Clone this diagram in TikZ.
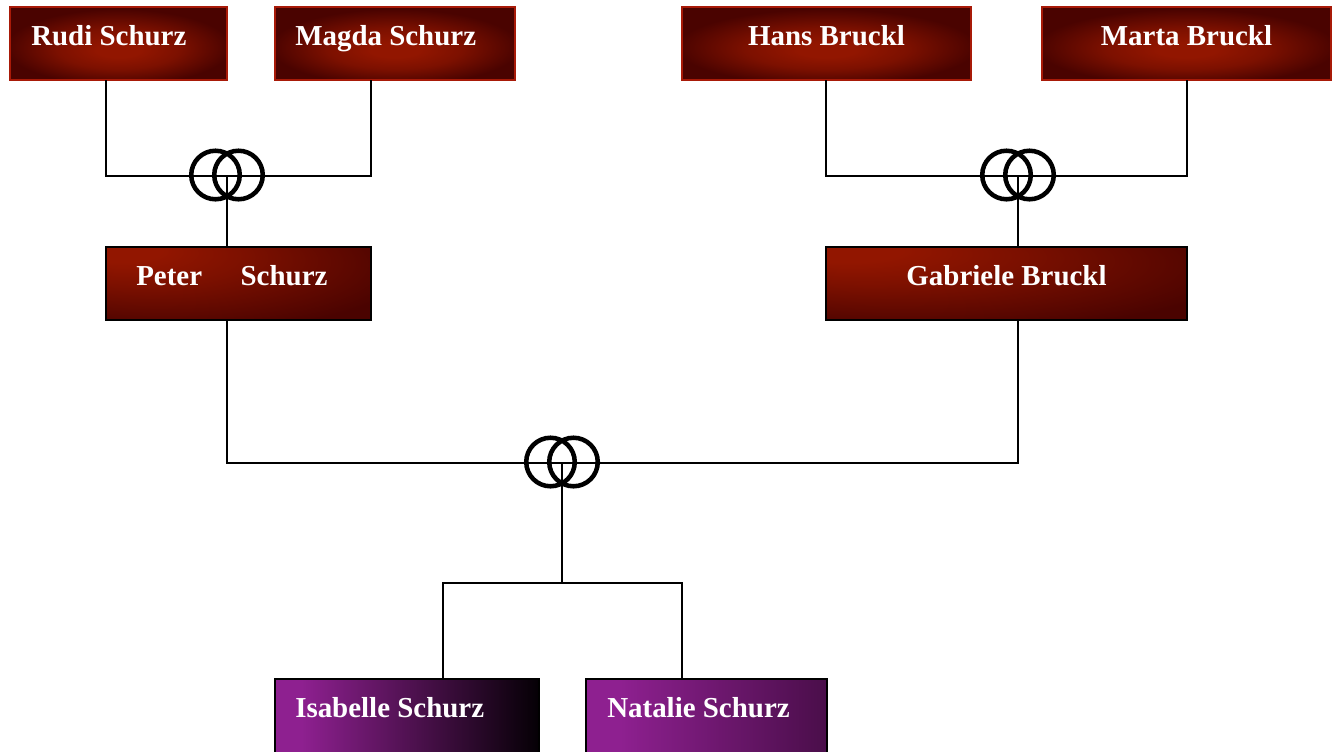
\documentclass[tikz,border=0pt]{standalone}
\usepackage{fontspec}
\setmainfont{Liberation Serif}
\usetikzlibrary{calc}
\definecolor{rbright}{HTML}{921600}
\definecolor{rdark}{HTML}{4A0300}
\colorlet{rmid}{rbright!70!rdark}
\colorlet{rmid2}{rbright!35!rdark}
\definecolor{redborder}{HTML}{A81A08}
\definecolor{pur}{HTML}{8E2090}
\definecolor{purdark}{HTML}{4A0E4A}
\definecolor{nearblack}{HTML}{050005}
\pgfdeclareradialshading{topred}{\pgfpoint{0bp}{-5bp}}{color(0bp)=(rbright); color(5bp)=(rbright); color(14bp)=(rmid); color(26bp)=(rdark); color(50bp)=(rdark)}
\pgfdeclareradialshading{midred}{\pgfpoint{-25bp}{25bp}}{color(0bp)=(rbright); color(8bp)=(rbright); color(20bp)=(rmid); color(32bp)=(rmid2); color(44bp)=(rdark); color(80bp)=(rdark)}
\pgfdeclarehorizontalshading{isafill}{100bp}{color(0bp)=(pur); color(30bp)=(pur); color(75bp)=(nearblack); color(100bp)=(nearblack)}
\pgfdeclarehorizontalshading{natfill}{100bp}{color(0bp)=(pur); color(32bp)=(pur); color(75bp)=(purdark); color(100bp)=(purdark)}
\begin{document}
\begin{tikzpicture}[x=0.75pt,y=-0.75pt,
  box/.style n args={2}{minimum width=#1*0.75pt, minimum height=#2*0.75pt, inner sep=0pt, outer sep=0pt},
  parentbox/.style={shading=topred, draw=redborder, line width=1.1pt},
  midbox/.style={shading=midred, draw=black, line width=1.5pt},
  isabox/.style={shading=isafill, draw=black, line width=1.5pt},
  natbox/.style={shading=natfill, draw=black, line width=1.5pt},
  nm/.style={text=white, inner sep=0pt, font=\fontsize{21.7}{26}\selectfont\bfseries},
  link/.style={draw=black, line width=1.4pt},
  ringc/.style={draw=black, line width=3.4pt}]
\useasboundingbox (0,0) rectangle (1338,751);
\clip (0,0) rectangle (1338,751);
\fill[white] (0,0) rectangle (1338,751);

% connector points
\coordinate (r1) at (227,176);
\coordinate (r2) at (1018,176);
\coordinate (r3) at (562,463);
\coordinate (kids) at (562,583);
\coordinate (ka) at (443,583);
\coordinate (kb) at (682,583);

% boxes
\node[parentbox, box={217}{73}] (rudi) at (118.5,43.5) {};
\node[parentbox, box={240}{73}] (magda) at (395,43.5) {};
\node[parentbox, box={289}{73}] (hans) at (826.5,43.5) {};
\node[parentbox, box={289}{73}] (marta) at (1186.5,43.5) {};
\node[midbox, box={265}{73}] (peter) at (238.5,283.5) {};
\node[midbox, box={361}{73}] (gab) at (1006.5,283.5) {};
\node[isabox, box={264}{74}] (isa) at (407,716) {};
\node[natbox, box={241}{74}] (nat) at (706.5,716) {};

% names
\node[nm, anchor=base west] (rudiT) at (31,45.5) {Rudi Schurz};
\node[nm, anchor=base west] (magdaT) at (295,45.5) {Magda Schurz};
\node[nm, anchor=base] (hansT) at (826.5,45.5) {Hans Bruckl};
\node[nm, anchor=base] (martaT) at (1186.5,45.5) {Marta Bruckl};
\node[nm, anchor=base west] (peterT) at (136,285.5) {Peter \hspace{23.5pt}Schurz};
\node[nm, anchor=base] (gabT) at (1006.5,285.5) {Gabriele Bruckl};
\node[nm, anchor=base west] (isaT) at (295,717.5) {Isabelle Schurz};
\node[nm, anchor=base west] (natT) at (607,717.5) {Natalie Schurz};

% connectors
\draw[link] (peter.west |- rudi.south) |- (peter.east |- r1) -- (peter.east |- magda.south);
\draw[link] (r1) -- (r1 |- peter.north);
\draw[link] (gab.west |- hans.south) |- (gab.east |- r2) -- (gab.east |- marta.south);
\draw[link] (r2) -- (r2 |- gab.north);
\draw[link] (r1 |- peter.south) |- (r3) -| (r2 |- gab.south);
\draw[link] (r3) -- (kids);
\draw[link] (ka |- isa.north) |- (kb) -- (kb |- nat.north);

% rings
\foreach \r in {r1,r2,r3}{
  \draw[ringc] ($(\r)+(-11.5,-1)$) circle[radius=18.2pt];
  \draw[ringc] ($(\r)+(11.5,-1)$) circle[radius=18.2pt];
}
\end{tikzpicture}
\end{document}
